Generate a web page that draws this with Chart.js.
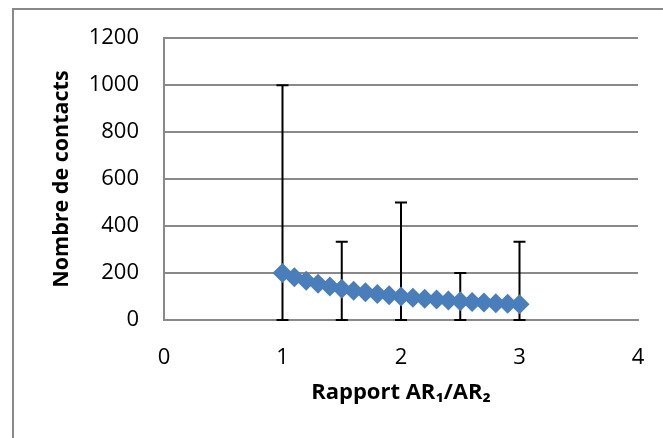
<!DOCTYPE html>
<html>
<head>
<meta charset="utf-8">
<script src="https://cdn.jsdelivr.net/npm/chart.js@4/dist/chart.umd.min.js"></script>
<style>
    html, body { margin: 0; padding: 0; background: #fff; overflow: hidden; }
    #cadre { position: absolute; left: 12px; top: 8px; width: 700px; height: 500px; border: 2px solid #898989; }
    #graf { position: absolute; left: 0; top: 0; }
</style>
</head>
<body>
<div id="cadre"></div>
<canvas id="graf" width="663" height="438"></canvas>
<script>
// rapport AR1/AR2 et nombre de contacts
const rapports = [1.0, 1.1, 1.2, 1.3, 1.4, 1.5, 1.6, 1.7, 1.8, 1.9, 2.0, 2.1, 2.2, 2.3, 2.4, 2.5, 2.6, 2.7, 2.8, 2.9, 3.0];
const contacts = [200, 182, 167, 154, 143, 133, 125, 118, 111, 105, 100, 95, 91, 87, 83, 80, 77, 74, 71, 69, 67];

// barres d'erreur (seulement sur certains points)
const erreurX = [1, 1.5, 2, 2.5, 3];
const erreurMin = [0, 0, 0, 0, 0];
const erreurMax = [1000, 333, 500, 200, 333];

const ticksX = [0, 1, 2, 3, 4];
const ticksY = [0, 200, 400, 600, 800, 1000, 1200];

const police = "'Open Sans', 'Liberation Sans', sans-serif";
const gris = '#898989';

const barresErreur = {
    id: 'barresErreur',
    beforeDatasetsDraw(chart) {
        const ctx = chart.ctx;
        const sx = chart.scales.x;
        const sy = chart.scales.y;
        ctx.save();
        ctx.strokeStyle = '#000';
        ctx.lineWidth = 2;
        erreurX.forEach((x, i) => {
            const px = sx.getPixelForValue(x);
            const y1 = sy.getPixelForValue(erreurMin[i]);
            const y2 = sy.getPixelForValue(erreurMax[i]);
            ctx.beginPath();
            ctx.moveTo(px, y1);
            ctx.lineTo(px, y2);
            ctx.moveTo(px - 6, y1);
            ctx.lineTo(px + 6, y1);
            ctx.moveTo(px - 6, y2);
            ctx.lineTo(px + 6, y2);
            ctx.stroke();
        });
        ctx.restore();
    }
};

new Chart(document.getElementById('graf'), {
    type: 'scatter',
    data: {
        datasets: [{
            data: rapports.map((x, i) => ({ x: x, y: contacts[i] })),
            pointStyle: 'rectRot',
            pointRadius: 10,
            pointHoverRadius: 10,
            backgroundColor: '#4a7ebb',
            borderColor: '#4a7ebb',
            borderWidth: 0,
            showLine: false
        }]
    },
    options: {
        responsive: false,
        animation: false,
        layout: { padding: { left: 0, top: 38, right: 25, bottom: 0 } },
        plugins: {
            legend: { display: false },
            tooltip: { enabled: false }
        },
        scales: {
            x: {
                type: 'linear',
                min: 0,
                max: 4,
                afterBuildTicks: s => { s.ticks = ticksX.map(v => ({ value: v })); },
                afterFit: s => { s.height = 118; },
                // marques invisibles pour décaler les étiquettes sans toucher la largeur
                grid: { display: true, drawOnChartArea: false, drawTicks: true, tickLength: 25, tickColor: 'rgba(0,0,0,0)' },
                border: { color: gris, width: 2 },
                ticks: { color: '#000', padding: 0, font: { family: police, size: 22 }, callback: v => String(v) },
                title: {
                    display: true,
                    text: 'Rapport AR₁/AR₂',
                    color: '#000',
                    padding: { top: 0, bottom: 32 },
                    font: { family: police, size: 22, weight: 'bold' }
                }
            },
            y: {
                min: 0,
                max: 1200,
                afterBuildTicks: s => { s.ticks = ticksY.map(v => ({ value: v })); },
                afterFit: s => { s.width = 164; },
                grid: { color: gris, lineWidth: 2, drawTicks: false },
                border: { color: gris, width: 2 },
                ticks: { color: '#000', padding: 25, font: { family: police, size: 22 }, callback: v => String(v) },
                title: {
                    display: true,
                    text: 'Nombre de contacts',
                    color: '#000',
                    padding: { top: 49, bottom: 0 },
                    font: { family: police, size: 21.5, weight: 'bold' }
                }
            }
        }
    },
    plugins: [barresErreur]
});
</script>
</body>
</html>
